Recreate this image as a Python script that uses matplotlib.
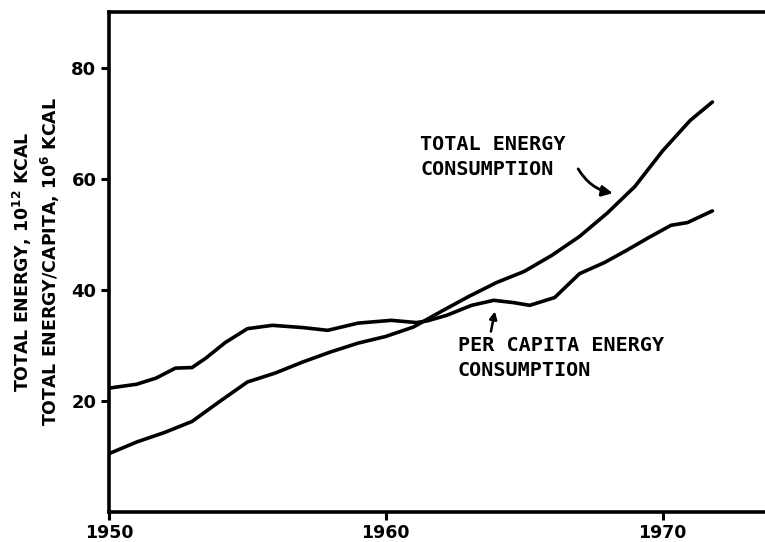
import matplotlib.pyplot as plt

# Werte
total_years = [1950, 1951, 1952, 1953, 1954, 1955, 1956, 1957, 1958, 1959,
               1960, 1961, 1962, 1963, 1964, 1965, 1966, 1967, 1968, 1969,
               1970, 1971, 1971.8]
total_energy = [10.5, 12.6, 14.3, 16.3, 19.9, 23.4, 25.0, 27.0, 28.8, 30.4,
                31.6, 33.3, 36.1, 38.8, 41.3, 43.3, 46.2, 49.6, 53.8, 58.6,
                65.0, 70.5, 73.8]

capita_years = [1950, 1951, 1951.7, 1952.4, 1953.0, 1953.5, 1954.2, 1955.0,
                1955.9, 1957.0, 1957.9, 1959.0, 1960.2, 1961.1, 1961.5, 1962.2,
                1963.1, 1963.9, 1964.6, 1965.2, 1966.1, 1967.0, 1967.9, 1968.7,
                1969.5, 1970.3, 1970.9, 1971.8]
capita_energy = [22.3, 23.0, 24.1, 25.9, 26.0, 27.7, 30.5, 33.0,
                 33.6, 33.2, 32.7, 34.0, 34.5, 34.1, 34.4, 35.4,
                 37.2, 38.1, 37.7, 37.2, 38.6, 42.9, 44.9, 47.1,
                 49.4, 51.6, 52.1, 54.2]

x_ticks = [1950, 1960, 1970]
y_ticks = [20, 40, 60, 80]

fig = plt.figure(figsize=(7.65, 5.42), dpi=100)
ax = fig.add_axes([109 / 765, 30 / 542, 1 - 109 / 765, 500 / 542])

ax.plot(total_years, total_energy, color='black', lw=2.6, solid_capstyle='round', solid_joinstyle='round')
ax.plot(capita_years, capita_energy, color='black', lw=2.6, solid_capstyle='round', solid_joinstyle='round')

ax.set_xlim(1950, 1973.7)
ax.set_ylim(0, 90)
ax.set_xticks(x_ticks)
ax.set_yticks(y_ticks)
ax.set_xticklabels([str(t) for t in x_ticks], fontsize=12.5, fontweight='bold')
ax.set_yticklabels([str(t) for t in y_ticks], fontsize=13, fontweight='bold')
ax.tick_params(direction='out', length=6, width=2.2, pad=3)

for side in ['left', 'bottom', 'top']:
    ax.spines[side].set_linewidth(2.6)
ax.spines['right'].set_visible(False)

ax.set_ylabel('TOTAL ENERGY, $\\mathbf{10^{12}}$ KCAL\nTOTAL ENERGY/CAPITA, $\\mathbf{10^{6}}$ KCAL',
              fontsize=12.5, fontweight='bold', linespacing=1.25, labelpad=7)

# Beschriftungen mit Pfeilen
ax.text(1961.25, 63.9, 'TOTAL ENERGY\nCONSUMPTION', fontsize=14.5, fontweight='bold',
        family='DejaVu Sans Mono', va='center', ha='left', linespacing=1.4)
ax.annotate('', xy=(1968.3, 57.3), xytext=(1966.9, 62.2),
            arrowprops=dict(arrowstyle='-|>', color='black', lw=2,
                            mutation_scale=16, connectionstyle='arc3,rad=0.25'))

ax.text(1962.6, 27.75, 'PER CAPITA ENERGY\nCONSUMPTION', fontsize=14.5, fontweight='bold',
        family='DejaVu Sans Mono', va='center', ha='left', linespacing=1.4)
ax.annotate('', xy=(1963.96, 36.6), xytext=(1963.78, 32.0),
            arrowprops=dict(arrowstyle='-|>', color='black', lw=1.8, mutation_scale=11))

plt.savefig('out.png', dpi=100)
